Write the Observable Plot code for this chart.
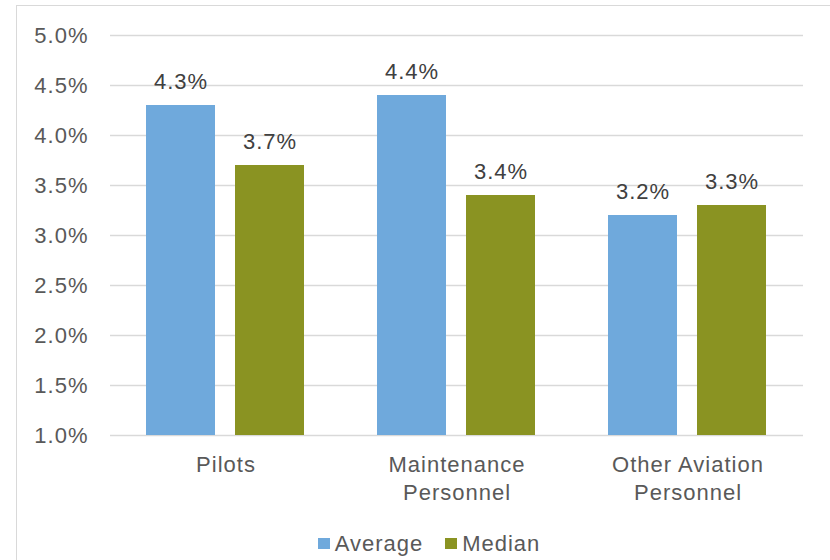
<!DOCTYPE html>
<html>
<head>
<meta charset="utf-8">
<script src="https://cdn.jsdelivr.net/npm/d3@7"></script>
<script src="https://cdn.jsdelivr.net/npm/@observablehq/plot@0.6"></script>
<style>
  html, body { margin: 0; padding: 0; background: #fff; overflow: hidden; }
  body { font-family: "Liberation Sans", Arial, sans-serif; width: 830px; height: 560px; position: relative; }
  #chart { position: absolute; left: 0; top: 0; }
  #frame { position: absolute; left: 16px; top: 5px; width: 840px; height: 600px; border: 1px solid #d9d9d9; box-sizing: border-box; pointer-events: none; }
  #legend { position: absolute; left: 16px; width: 826px; top: 533px; display: flex; justify-content: center; gap: 22px;
            font-size: 22px; line-height: 21px; letter-spacing: 1px; color: #595959; }
  .item { display: inline-flex; align-items: center; }
  .swatch { width: 12px; height: 11px; margin-right: 5px; }
</style>
</head>
<body>
<div id="chart"></div>
<div id="frame"></div>
<div id="legend"></div>
<script>
// Categories and their axis labels (line breaks as shown under the bars)
const categories = ["Pilots", "Maintenance Personnel", "Other Aviation Personnel"];
const categoryLabels = ["Pilots", "Maintenance\nPersonnel", "Other Aviation\nPersonnel"];

// Series
const seriesNames = ["Average", "Median"];
const seriesColors = ["#6fa9dc", "#8a9322"];
const averageValues = [4.3, 4.4, 3.2];
const medianValues = [3.7, 3.4, 3.3];

// Y axis ticks (percent)
const yTicks = [1.0, 1.5, 2.0, 2.5, 3.0, 3.5, 4.0, 4.5, 5.0];

const rows = categories.flatMap((c, i) => [
  {category: c, series: seriesNames[0], value: averageValues[i]},
  {category: c, series: seriesNames[1], value: medianValues[i]}
]);

const pct = d => d.toFixed(1) + "%";

const chart = Plot.plot({
  width: 830,
  height: 520,
  marginLeft: 110,
  marginRight: 27,
  marginTop: 35,
  marginBottom: 85,
  style: {
    fontFamily: "'Liberation Sans', Arial, sans-serif",
    fontSize: "22px",
    color: "#595959",
    background: "transparent",
    letterSpacing: "1px",
    overflow: "visible"
  },
  fx: {domain: categories, padding: 0, label: null},
  x: {domain: seriesNames, paddingInner: 0.2247, paddingOuter: 0.41, axis: null},
  y: {domain: [1, 5], label: null},
  color: {domain: seriesNames, range: seriesColors},
  marks: [
    Plot.gridY(yTicks, {stroke: "#d9d9d9", strokeOpacity: 1, strokeWidth: 1.5}),
    Plot.axisY(yTicks, {tickSize: 0, tickPadding: 22, tickFormat: pct, label: null, fontSize: 22, fill: "#595959"}),
    Plot.axisFx({
      anchor: "bottom",
      tickSize: 0, tickPadding: 17, label: null, lineHeight: 1.25, fontSize: 22, fill: "#595959",
      tickFormat: c => categoryLabels[categories.indexOf(c)]
    }),
    Plot.barY(rows, {fx: "category", x: "series", y1: 1, y2: "value", fill: "series"}),
    Plot.text(rows, {
      fx: "category", x: "series", y: "value", text: d => pct(d.value),
      lineAnchor: "bottom", dy: -17, fontSize: 22, fill: "#404040"
    })
  ]
});
document.getElementById("chart").appendChild(chart);

// Legend below the plot
const legend = document.getElementById("legend");
seriesNames.forEach((name, i) => {
  const item = document.createElement("span");
  item.className = "item";
  const sw = document.createElement("span");
  sw.className = "swatch";
  sw.style.background = seriesColors[i];
  const label = document.createElement("span");
  label.textContent = name;
  item.appendChild(sw);
  item.appendChild(label);
  legend.appendChild(item);
});
</script>
</body>
</html>
